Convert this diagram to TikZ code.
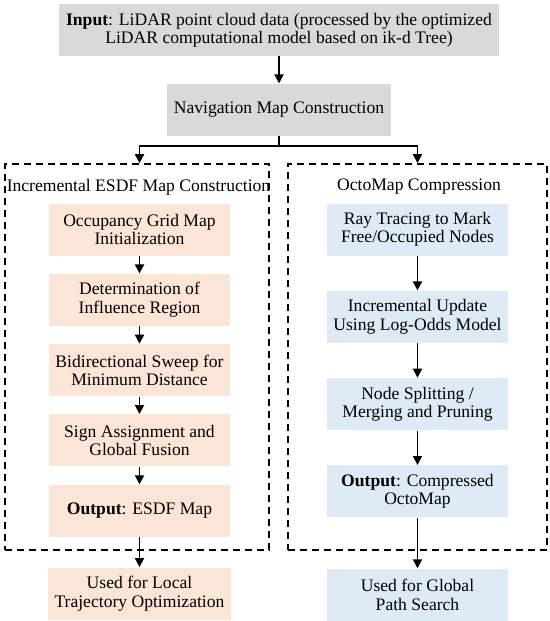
\documentclass[tikz,border=0pt]{standalone}
\usepackage{fontspec}
\setmainfont{Liberation Serif}
\usepackage{xcolor}
\usetikzlibrary{arrows.meta,positioning}
\definecolor{boxgray}{RGB}{217,217,217}
\definecolor{lightorange}{RGB}{251,229,214}
\definecolor{lightblue}{RGB}{222,235,247}

\begin{document}
\begin{tikzpicture}[x=0.5pt,y=-0.5pt,font=\fontsize{8.8}{9.2}\selectfont,
  node distance=8.75pt,
  gbox/.style={fill=boxgray,minimum height=26pt,align=center},
  esdf/.style={fill=lightorange,minimum width=90.5pt,minimum height=26pt,align=center},
  octo/.style={fill=lightblue,minimum width=90.5pt,minimum height=26pt,align=center},
  frame/.style={draw,dashed,dash pattern=on 3.5pt off 2.5pt,line width=0.8pt},
  arr/.style={-{Triangle[length=4.5pt,width=4.5pt]},line width=0.9pt}
]
  \useasboundingbox (0,0) rectangle (550,621);
  \node[gbox,minimum width=220pt] (input) at (279,30) {\textbf{Input}: LiDAR point cloud data (processed by the optimized\\LiDAR computational model based on ik-d Tree)};
  \node[gbox,minimum width=110pt,below=13.5pt of input] (nav) {Navigation Map Construction};

  % dashed groups
  \node[frame,minimum width=132pt,minimum height=193pt] (lframe) at (137,357) {};
  \node[frame,minimum width=129.5pt,minimum height=193pt] (rframe) at (417.5,357) {};
  \node (ltitle) at (138.5,187) {Incremental ESDF Map Construction};
  \node (rtitle) at (419,187) {OctoMap Compression};

  % ESDF branch
  \node[esdf] (l1) at (139.5,229.5) {Occupancy Grid Map\\Initialization};
  \node[esdf,below=of l1] (l2) {Determination of\\Influence Region};
  \node[esdf,below=of l2] (l3) {Bidirectional Sweep for\\Minimum Distance};
  \node[esdf,below=of l3] (l4) {Sign Assignment and\\Global Fusion};
  \node[esdf,below=of l4] (l5) {\textbf{Output}: ESDF Map};
  \node[esdf,below=15pt of l5] (l6) {Used for Local\\Trajectory Optimization};

  % OctoMap branch
  \node[octo] (r1) at (417.5,229.5) {Ray Tracing to Mark\\Free/Occupied Nodes};
  \node[octo,below=17.25pt of r1] (r2) {Incremental Update\\Using Log-Odds Model};
  \node[octo,below=17.25pt of r2] (r3) {Node Splitting /\\Merging and Pruning};
  \node[octo,below=17.25pt of r3] (r4) {\textbf{Output}: Compressed\\OctoMap};
  \node[octo,below=25.25pt of r4] (r5) {Used for Global\\Path Search};

  \draw[arr] (input) -- (nav);
  \draw[arr] (nav.south) -- ++(0,10) -| (lframe.north -| l1.north);
  \draw[arr] (nav.south) -- ++(0,10) -| (rframe.north -| r1.north);
  \draw[arr] (l1) -- (l2);
  \draw[arr] (l2) -- (l3);
  \draw[arr] (l3) -- (l4);
  \draw[arr] (l4) -- (l5);
  \draw[arr] (l5) -- (l6);
  \draw[arr] (r1) -- (r2);
  \draw[arr] (r2) -- (r3);
  \draw[arr] (r3) -- (r4);
  \draw[arr] (r4) -- (r5);
\end{tikzpicture}
\end{document}
